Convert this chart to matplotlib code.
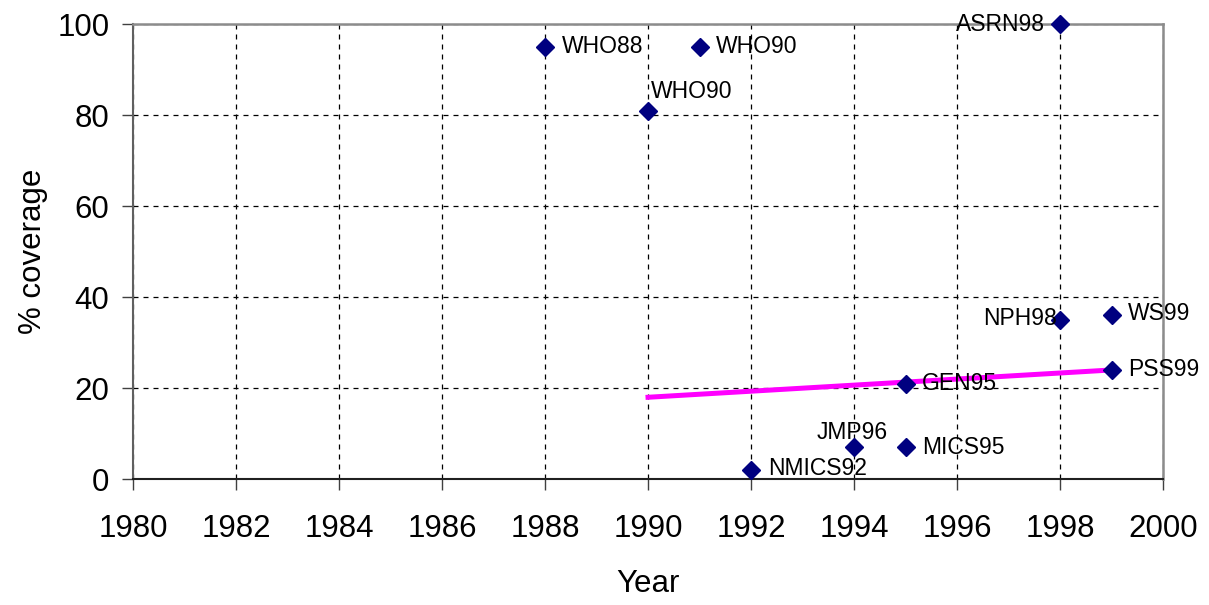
import matplotlib
matplotlib.use('Agg')
import matplotlib.pyplot as plt

plt.rcParams['font.family'] = ['Liberation Sans', 'DejaVu Sans']

# survey points
years = [1988, 1991, 1990, 1998, 1998, 1999, 1999, 1995, 1995, 1994, 1992]
coverage = [95, 95, 81, 100, 35, 36, 24, 21, 7, 7, 2]
labels = ['WHO88', 'WHO90', 'WHO90', 'ASRN98', 'NPH98', 'WS99', 'PSS99',
          'GEN95', 'MICS95', 'JMP96', 'NMICS92']

# trend line
trend_years = [1990, 1999]
trend_values = [18, 24]

# label offsets (points) and alignment
offsets = [(12, 0, 'left'), (12, 0, 'left'), (2, 14, 'left'), (-11, 0, 'right'),
           (-2, 1, 'right'), (12, 1, 'left'), (12, 0, 'left'), (12, 0, 'left'),
           (12, 0, 'left'), (-1, 11, 'center'), (12, 1, 'left')]

fig = plt.figure(figsize=(12.09, 6.05), dpi=100)
ax = fig.add_axes([0.110, 0.208, 0.852, 0.752])

ax.plot(trend_years, trend_values, color='#ff00ff', lw=3.6, zorder=2)
ax.plot(years, coverage, linestyle='none', marker='D', ms=9.5,
        color='#000080', zorder=3, clip_on=False)

for x, y, lab, (dx, dy, ha) in zip(years, coverage, labels, offsets):
    ax.annotate(lab, (x, y), xytext=(dx, dy), textcoords='offset points',
                ha=ha, va='center', fontsize=16.5, color='black', zorder=4)

ax.set_xlim(1980, 2000)
ax.set_ylim(0, 100)
ax.set_xticks(range(1980, 2001, 2))
ax.set_yticks(range(0, 101, 20))
ax.tick_params(labelsize=22.5, length=8, width=1, direction='out', color='#404040')
ax.tick_params(axis='x', pad=17)
ax.tick_params(axis='y', pad=9)

ax.grid(True, color='black', linestyle=(0, (4, 4)), lw=0.9)
ax.set_axisbelow(True)

for side in ['top', 'right']:
    ax.spines[side].set_color('#8c8c8c')
    ax.spines[side].set_linewidth(1.8)
ax.spines['left'].set_color('#606060')
ax.spines['left'].set_linewidth(1.5)
ax.spines['bottom'].set_color('#202020')
ax.spines['bottom'].set_linewidth(1.5)

ax.set_xlabel('Year', fontsize=22.5, labelpad=18)
ax.set_ylabel('% coverage', fontsize=22.5, labelpad=7)

fig.savefig('out.png', dpi=100)
